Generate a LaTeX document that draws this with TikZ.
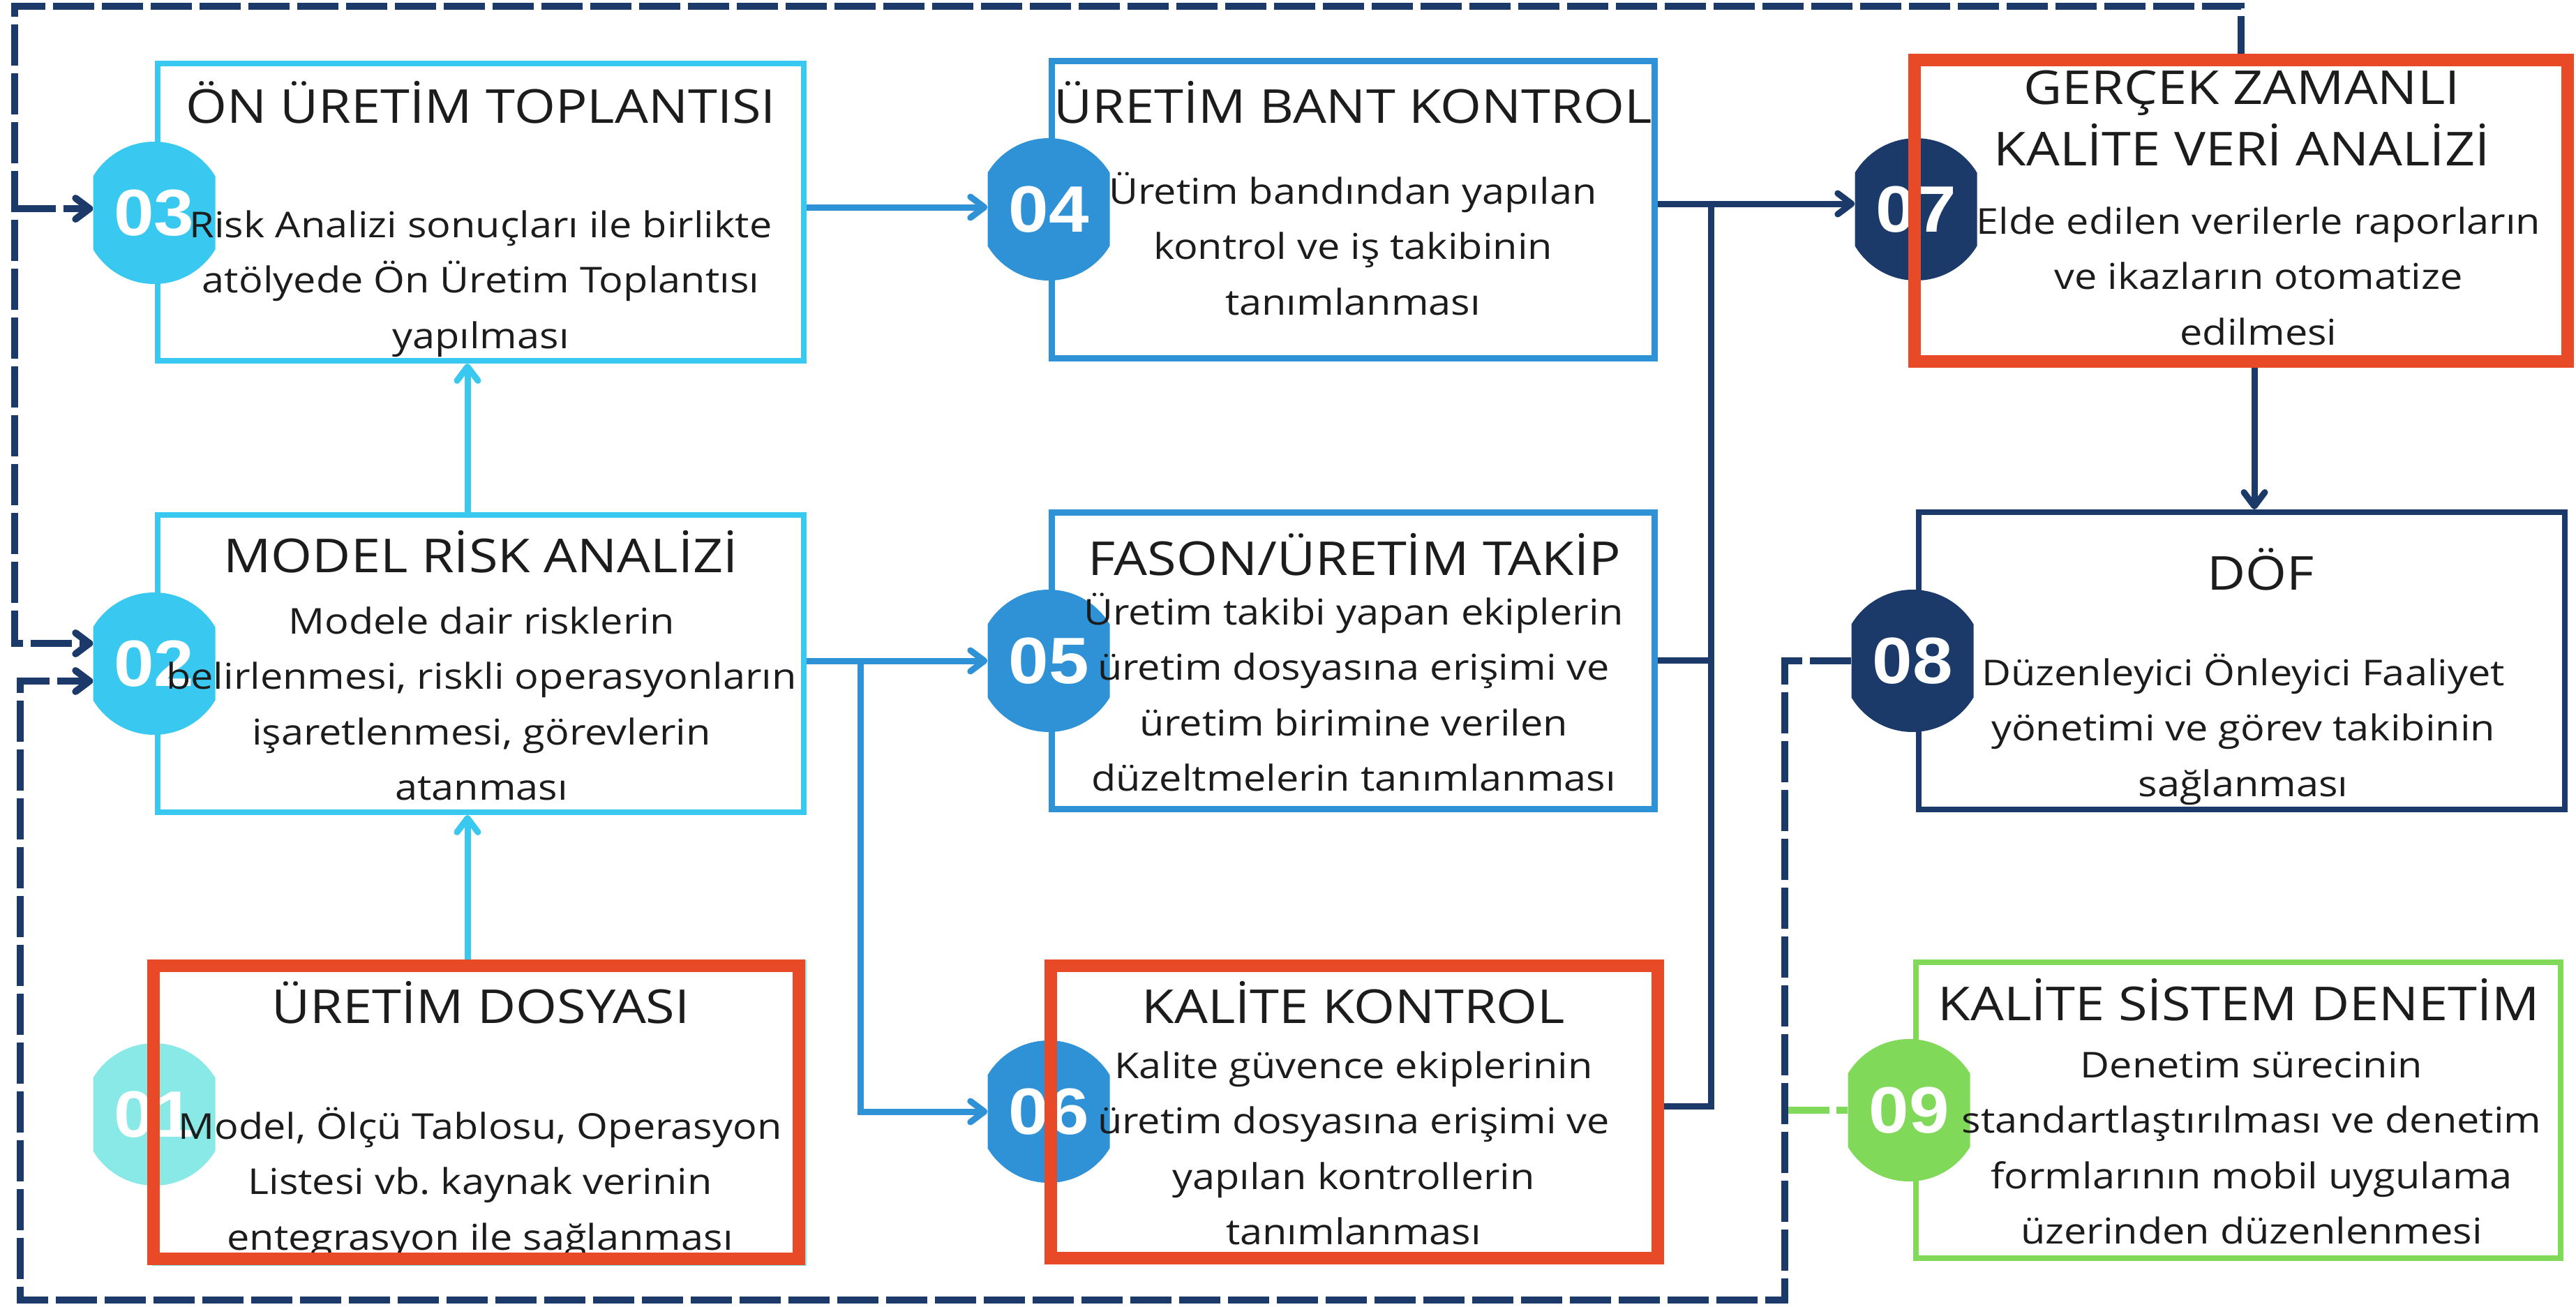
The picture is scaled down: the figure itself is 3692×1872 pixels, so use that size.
\documentclass[tikz,border=0pt]{standalone}
\usepackage{fontspec}
\setmainfont{Open Sans}[FakeStretch=1.13]
\newfontfamily\numfont{Liberation Sans}[FakeStretch=1.1]
\usetikzlibrary{arrows.meta}
\frenchspacing
\definecolor{lblue}{HTML}{39C9F0}
\definecolor{mblue}{HTML}{2F92D6}
\definecolor{navy}{HTML}{1B3A69}
\definecolor{hred}{HTML}{E84926}
\definecolor{grn}{HTML}{80D958}
\definecolor{lcyan}{HTML}{89E9E7}
\definecolor{ink}{HTML}{1C1C1C}
\tikzset{
  barb/.tip={Straight Barb[length=20pt,width=30pt,line cap=round,line join=round]},
  box/.style={draw,inner sep=0pt,fill=white},
  hbox/.style={draw=hred,line width=17.5pt,inner sep=0pt},
  ttl/.style={inner sep=0pt,anchor=base,text=ink,font={\fontsize{67}{88}\selectfont}},
  body/.style={inner sep=0pt,anchor=base,text=ink,font={\fontsize{51}{79.5}\selectfont}},
  numtxt/.style={inner sep=0pt,minimum width=175pt,minimum height=204pt,text=white,font={\numfont\bfseries\fontsize{94}{94}\selectfont}},
  conn/.style={line width=9pt},
  dsh/.style={line width=10pt,navy,dash pattern=on 59pt off 11pt},
}
\newcommand\numcirc[5]{%
  \begin{scope}
    \clip (#2-87.5,#3-102) rectangle (#2+87.5,#3+102);
    \fill[#4] (#2,#3) circle (102pt);
  \end{scope}
  \node[numtxt] (#1) at (#2,#3) {#5};}
\begin{document}
\begin{tikzpicture}[x=1pt,y=-1pt]
\useasboundingbox (0,0) rectangle (3692,1872);
\fill[white] (0,0) rectangle (3692,1872);

% boxes
\node[box,draw=lblue,line width=8pt,minimum width=926pt,minimum height=426pt] (b03) at (689,304) {};
\node[box,draw=mblue,line width=9pt,minimum width=864pt,minimum height=426pt] (b04) at (1939,300) {};
\node[box,draw=navy,line width=8pt,minimum width=928pt,minimum height=432pt] (b07) at (3212,302) {};
\node[box,draw=lblue,line width=8pt,minimum width=926pt,minimum height=426pt] (b02) at (689,951) {};
\node[box,draw=mblue,line width=9pt,minimum width=864pt,minimum height=425pt] (b05) at (1939,946.5) {};
\node[box,draw=navy,line width=8pt,minimum width=926pt,minimum height=426pt] (b08) at (3213,947) {};
\node[box,draw=lcyan,line width=8pt,minimum width=930pt,minimum height=430pt] (b01) at (687,1595) {};
\node[box,draw=mblue,line width=9pt,minimum width=869pt,minimum height=419pt] (b06) at (1941.5,1593.5) {};
\node[box,draw=grn,line width=8pt,minimum width=924pt,minimum height=424pt] (b09) at (3208,1591) {};

% number circles
\numcirc{c03}{221}{305}{lblue}{03}
\numcirc{c04}{1503}{300}{mblue}{04}
\numcirc{c07}{2746}{300}{navy}{07}
\numcirc{c02}{221}{951}{lblue}{02}
\numcirc{c05}{1503}{947}{mblue}{05}
\numcirc{c08}{2741}{947}{navy}{08}
\numcirc{c01}{221}{1597}{lcyan}{01}
\numcirc{c06}{1503}{1593}{mblue}{06}
\numcirc{c09}{2736}{1591}{grn}{09}

% connectors
\coordinate (xa) at (670,0);
\coordinate (xb) at (1233,0);
\coordinate (xc) at (2452,0);
\coordinate (xd) at (3231,0);
\draw[conn,mblue,-barb] ([yshift=3pt]c04.west -| b03.east) -- ([yshift=3pt]c04.west);
\draw[conn,lblue,-barb] (b02.north -| xa) -- (b03.south -| xa);
\draw[conn,lblue,-barb] (b01.north -| xa) -- (b02.south -| xa);
\draw[conn,mblue,-barb] (c05.west -| b02.east) -- (c05.west);
\draw[conn,mblue,-barb] (c05.west -| xb) -- (c06.west -| xb) -- (c06.west);
\draw[conn,navy,-barb] ([yshift=8pt]c07.west -| b04.east) -- ([yshift=8pt]c07.west);
\draw[conn,navy] ([yshift=8pt]c07.west -| xc) -- ([yshift=8pt]b06.east -| xc) -- ([yshift=8pt]b06.east);
\draw[conn,navy] (b05.east) -- (b05.east -| xc);
\draw[conn,navy,-barb] (b07.south -| xd) -- (b08.north -| xd);

% dashed feedback loops
\coordinate (tl) at (21,9);
\coordinate (bl) at (29,1863);
\coordinate (br) at (2558,1863);
\draw[dsh,-barb] (b07.north) -- (b07.north |- tl) -- (tl) -- ([yshift=29pt]c02.west -| tl) -- ([yshift=29pt]c02.west);
\draw[dsh,-barb] ([yshift=6pt]c03.west -| tl) -- ([yshift=6pt]c03.west);
\draw[dsh,-barb] (c08.west) -- (c08.west -| br) -- (br) -- (bl) -- ([yshift=-25pt]c02.west -| bl) -- ([yshift=-25pt]c02.west);
\draw[line width=10pt,grn,dash pattern=on 16pt off 10pt on 80pt off 0pt] (c09.west) -- ([xshift=5pt]c09.west -| br);

% titles
\node[ttl] (t03) at (689,176) {ÖN ÜRETİM TOPLANTISI};
\node[ttl] (t04) at (1939,176) {ÜRETİM BANT KONTROL};
\node[ttl] (t07) at (3213,149) {\begin{tabular}[t]{@{}c@{}}GERÇEK ZAMANLI\\KALİTE VERİ ANALİZİ\end{tabular}};
\node[ttl] (t02) at (689,820) {MODEL RİSK ANALİZİ};
\node[ttl] (t05) at (1941,824) {FASON/ÜRETİM TAKİP};
\node[ttl] (t08) at (3240,845) {DÖF};
\node[ttl] (t01) at (689,1466) {ÜRETİM DOSYASI};
\node[ttl] (t06) at (1940,1466) {KALİTE KONTROL};
\node[ttl] (t09) at (3209,1462) {KALİTE SİSTEM DENETİM};

% bodies
\node[body] (d03) at (689,340) {\begin{tabular}[t]{@{}c@{}}Risk Analizi sonuçları ile birlikte\\atölyede Ön Üretim Toplantısı\\yapılması\end{tabular}};
\node[body] (d04) at (1939,292) {\begin{tabular}[t]{@{}c@{}}Üretim bandından yapılan\\kontrol ve iş takibinin\\tanımlanması\end{tabular}};
\node[body] (d07) at (3237,335) {\begin{tabular}[t]{@{}c@{}}Elde edilen verilerle raporların\\ve ikazların otomatize\\edilmesi\end{tabular}};
\node[body] (d02) at (690,908) {\begin{tabular}[t]{@{}c@{}}Modele dair risklerin\\belirlenmesi, riskli operasyonların\\işaretlenmesi, görevlerin\\atanması\end{tabular}};
\node[body] (d05) at (1940,895) {\begin{tabular}[t]{@{}c@{}}Üretim takibi yapan ekiplerin\\üretim dosyasına erişimi ve\\üretim birimine verilen\\düzeltmelerin tanımlanması\end{tabular}};
\node[body] (d08) at (3215,982) {\begin{tabular}[t]{@{}c@{}}Düzenleyici Önleyici Faaliyet\\yönetimi ve görev takibinin\\sağlanması\end{tabular}};
\node[body] (d01) at (688,1632) {\begin{tabular}[t]{@{}c@{}}Model, Ölçü Tablosu, Operasyon\\Listesi vb. kaynak verinin\\entegrasyon ile sağlanması\end{tabular}};
\node[body] (d06) at (1940,1545) {\begin{tabular}[t]{@{}c@{}}Kalite güvence ekiplerinin\\üretim dosyasına erişimi ve\\yapılan kontrollerin\\tanımlanması\end{tabular}};
\node[body] (d09) at (3227,1544) {\begin{tabular}[t]{@{}c@{}}Denetim sürecinin\\standartlaştırılması ve denetim\\formlarının mobil uygulama\\üzerinden düzenlenmesi\end{tabular}};

% red highlight frames on top
\node[hbox,minimum width=936pt,minimum height=432pt] (h07) at (3212,302) {};
\node[hbox,minimum width=925pt,minimum height=420pt] (h01) at (682.5,1594) {};
\node[hbox,minimum width=870pt,minimum height=419pt] (h06) at (1941,1593.5) {};
\end{tikzpicture}
\end{document}
